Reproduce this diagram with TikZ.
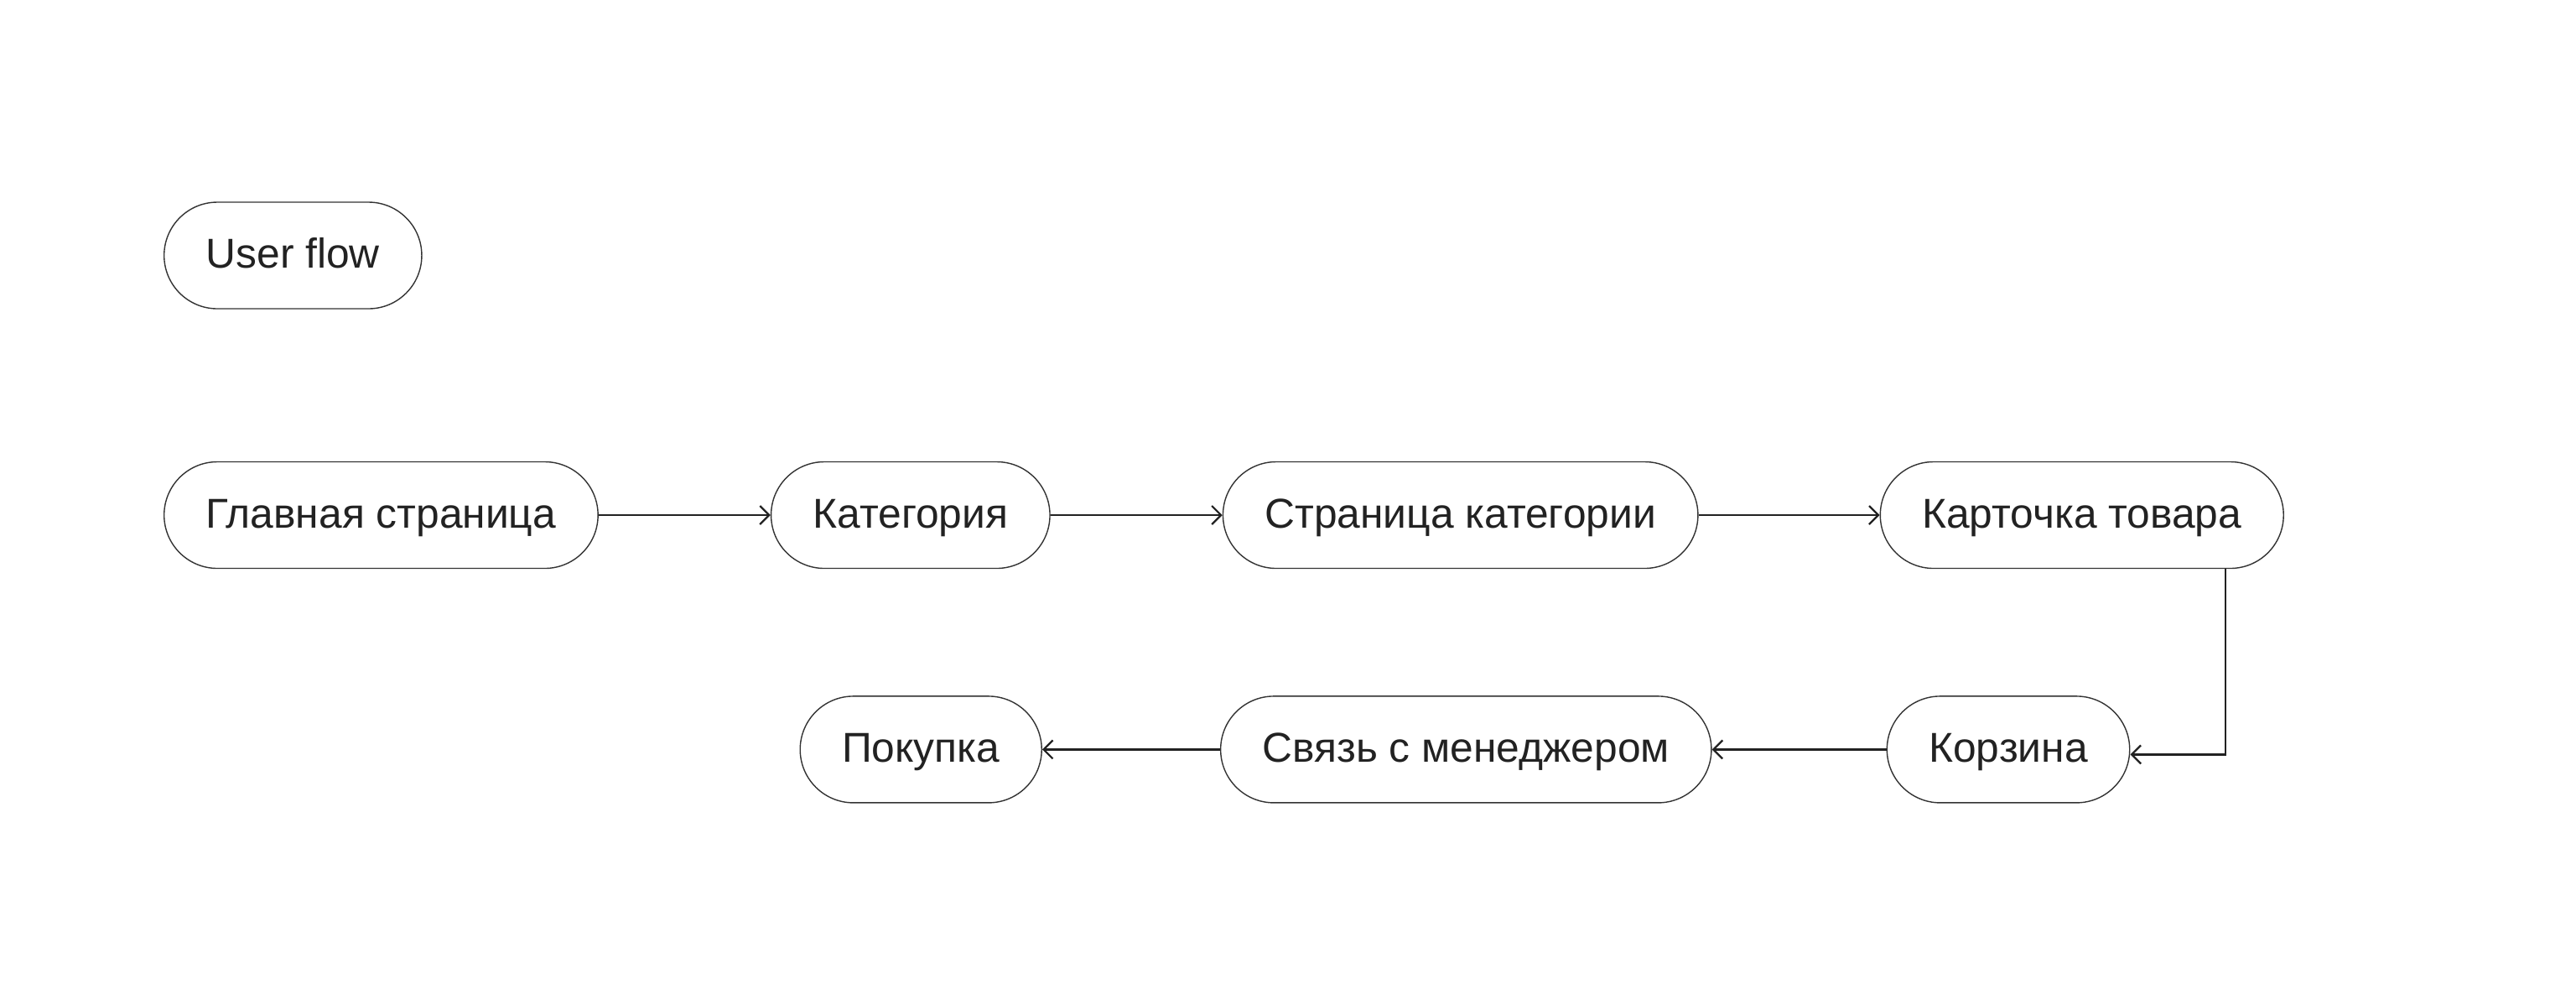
\documentclass[tikz,border=0pt]{standalone}
\usepackage{fontspec}
\setmainfont{Liberation Sans}
\usepackage{xcolor}
\usepackage{tikz}
\usetikzlibrary{arrows.meta,positioning}
\definecolor{flowink}{HTML}{222222}
\definecolor{flowline}{HTML}{333333}

\begin{document}
\begin{tikzpicture}[
  node distance=15.1mm and 20.5mm,
  screen/.style={draw=flowline,line width=0.4pt,rounded corners=6.35mm,minimum height=12.7mm,inner xsep=5mm,
    text height=10pt,text depth=1.2pt,text=flowink,font=\fontsize{14.15}{17}\selectfont},
  arr/.style={-{Straight Barb[length=1.1mm,width=2.2mm]},line width=0.65pt,flowink}
]
\useasboundingbox (0,0) rectangle (30.72,-11.97);
\node[screen,anchor=west] (title) at (1.95,-3.045) {User flow};
\node[screen,anchor=west] (home) at (1.95,-6.14) {Главная страница};
\node[screen,right=of home] (cat) {Категория};
\node[screen,right=of cat] (catpage) {Страница категории};
\node[screen,right=21.6mm of catpage] (card) {Карточка товара};
\node[screen,below=of card.south west,anchor=north west,xshift=0.8mm] (cart) {Корзина};
\node[screen,left=20.8mm of cart] (manager) {Связь с менеджером};
\node[screen,left=21.2mm of manager] (buy) {Покупка};
\draw[arr] (home) -- (cat);
\draw[arr] (cat) -- (catpage);
\draw[arr] (catpage) -- (card);
\draw[arr] ([xshift=-7mm]card.south east) |- ([yshift=-0.6mm]cart.east);
\draw[arr] (cart) -- (manager);
\draw[arr] (manager) -- (buy);
\end{tikzpicture}
\end{document}
